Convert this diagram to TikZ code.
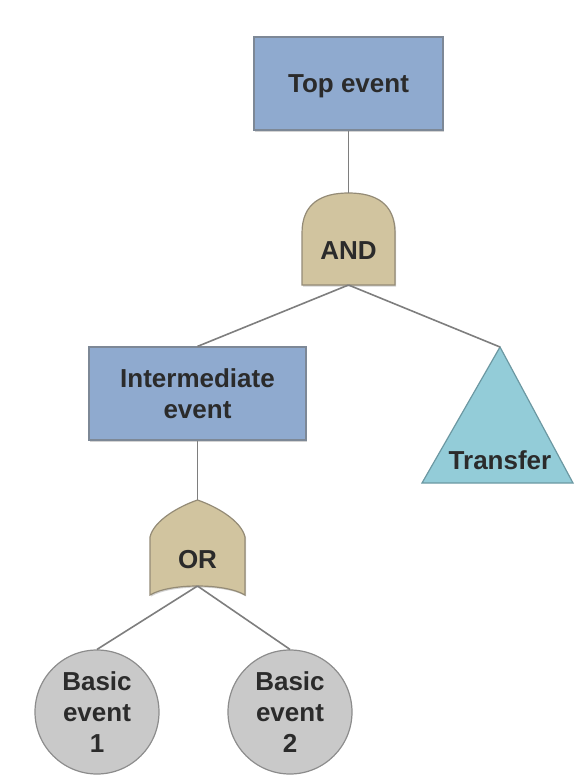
\documentclass[tikz,border=0pt]{standalone}
\usepackage{fontspec}
\setmainfont{Liberation Sans}
\usetikzlibrary{shadows}

\definecolor{boxblue}{HTML}{8FAACF}
\definecolor{boxedge}{HTML}{7D8896}
\definecolor{gatetan}{HTML}{D1C49F}
\definecolor{gateedge}{HTML}{948B76}
\definecolor{trifill}{HTML}{93CCD8}
\definecolor{triedge}{HTML}{6C98A2}
\definecolor{circfill}{HTML}{C9C9C9}
\definecolor{circedge}{HTML}{8C8C8C}
\definecolor{linkgray}{HTML}{7E7E7E}
\definecolor{labelgray}{HTML}{2B2B2B}

\tikzset{
  labelfont/.style={font=\fontsize{26}{31}\selectfont\bfseries, text=labelgray, align=center},
  softshadow/.style={drop shadow={opacity=0.35, shadow xshift=1.2pt, shadow yshift=-1.5pt}},
  eventbox/.style={labelfont, rectangle, draw=boxedge, line width=1.2pt, fill=boxblue,
    softshadow, inner sep=0pt},
  gateshape/.style={draw=gateedge, line width=1.2pt, fill=gatetan, softshadow},
  transfershape/.style={draw=triedge, line width=1.2pt, fill=trifill},
  basicevent/.style={labelfont, circle, draw=circedge, line width=1.2pt, fill=circfill,
    minimum size=124pt, inner sep=0pt},
  link/.style={draw=linkgray, line width=1.6pt},
}

\begin{document}
\begin{tikzpicture}[x=1pt, y=-1pt]
\useasboundingbox (0,0) rectangle (575,784);

% top event
\node[eventbox, minimum width=189pt, minimum height=93pt, text depth=0pt] (top) at (348.5,83.5) {Top event};

% AND gate
\path[gateshape] (302,285) -- (302,233)
  .. controls (302,203) and (322,193) .. (348.5,193)
  .. controls (375,193) and (395,203) .. (395,233)
  -- (395,285) -- cycle;
\coordinate (andtop) at (348.5,193);
\coordinate (andbot) at (348.5,285);
\node[labelfont] (and) at (348.5,251) {AND};

% intermediate event
\node[eventbox, minimum width=217pt, minimum height=93pt] (inter) at (197.5,393.5) {Intermediate\\event};

% transfer symbol
\path[transfershape] (500,347) -- (573,483) -- (422,483) -- cycle;
\coordinate (tritop) at (500,347);
\node[labelfont] (transfer) at (500,460) {Transfer};

% OR gate
\path[gateshape] (197.5,500)
  .. controls (180,506) and (154,520) .. (150,537)
  -- (150,595)
  .. controls (170,583) and (225,583) .. (245,595)
  -- (245,537)
  .. controls (241,520) and (215,506) .. (197.5,500) -- cycle;
\coordinate (ortop) at (197.5,500);
\coordinate (orbot) at (197.5,586);
\node[labelfont] (or) at (197.5,560) {OR};

% basic events
\node[basicevent] (b1) at (97,712) {Basic\\event\\1};
\node[basicevent] (b2) at (290,712) {Basic\\event\\2};

% connectors
\draw[link] (top.south) -- (andtop);
\draw[link] (andbot) -- (inter.north);
\draw[link] (andbot) -- (tritop);
\draw[link] (inter.south) -- (ortop);
\draw[link] (orbot) -- (b1.north);
\draw[link] (orbot) -- (b2.north);
\end{tikzpicture}
\end{document}
